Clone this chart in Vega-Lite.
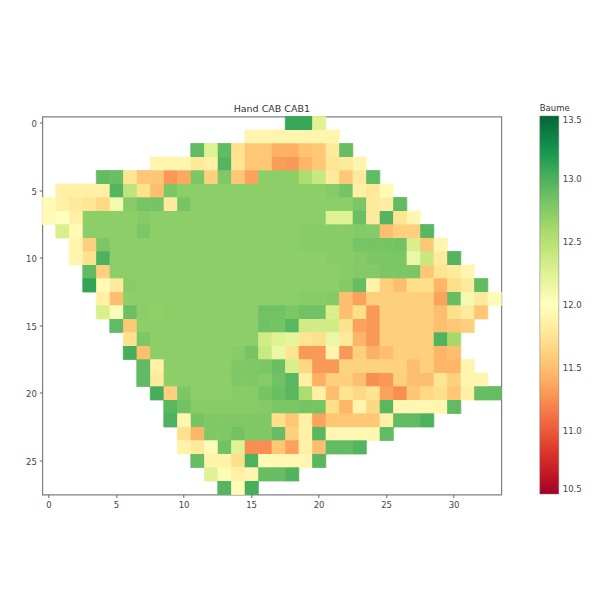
{"$schema":"https://vega.github.io/schema/vega-lite/v6.json","autosize":{"type":"none"},"width":459,"height":378,"padding":{"left":42.3,"top":116.5,"right":98,"bottom":105},"background":"white",
"title":{"text":"Hand CAB CAB1","fontSize":9.5,"font":"DejaVu Sans","fontWeight":"normal","color":"#333","offset":-10,"anchor":"middle"},
"config":{"view":{"stroke":"#808080","strokeWidth":1.2}},
"data":{"values":[
{"c":18,"r":0,"v":13.08},{"c":19,"r":0,"v":13.08},{"c":20,"r":0,"v":12.25},
{"c":15,"r":1,"v":11.9},{"c":16,"r":1,"v":11.9},{"c":17,"r":1,"v":11.9},{"c":18,"r":1,"v":11.9},{"c":19,"r":1,"v":11.9},{"c":20,"r":1,"v":11.9},{"c":21,"r":1,"v":11.9},
{"c":11,"r":2,"v":12.92},{"c":12,"r":2,"v":12.25},{"c":13,"r":2,"v":12.92},{"c":14,"r":2,"v":11.72},{"c":15,"r":2,"v":11.55},{"c":16,"r":2,"v":11.55},{"c":17,"r":2,"v":11.42},{"c":18,"r":2,"v":11.42},{"c":19,"r":2,"v":11.52},{"c":20,"r":2,"v":11.55},{"c":21,"r":2,"v":11.8},{"c":22,"r":2,"v":12.9},
{"c":8,"r":3,"v":11.9},{"c":9,"r":3,"v":11.9},{"c":10,"r":3,"v":11.9},{"c":11,"r":3,"v":11.78},{"c":12,"r":3,"v":11.85},{"c":13,"r":3,"v":12.97},{"c":14,"r":3,"v":11.75},{"c":15,"r":3,"v":11.55},{"c":16,"r":3,"v":11.55},{"c":17,"r":3,"v":11.32},{"c":18,"r":3,"v":11.3},{"c":19,"r":3,"v":11.45},{"c":20,"r":3,"v":11.55},{"c":21,"r":3,"v":11.75},{"c":22,"r":3,"v":11.8},{"c":23,"r":3,"v":11.9},
{"c":4,"r":4,"v":12.92},{"c":5,"r":4,"v":12.88},{"c":6,"r":4,"v":11.75},{"c":7,"r":4,"v":11.55},{"c":8,"r":4,"v":11.55},{"c":9,"r":4,"v":11.3},{"c":10,"r":4,"v":11.38},{"c":11,"r":4,"v":12.8},{"c":12,"r":4,"v":11.6},{"c":13,"r":4,"v":12.78},{"c":14,"r":4,"v":11.55},{"c":15,"r":4,"v":11.35},{"c":16,"r":4,"v":12.72},{"c":17,"r":4,"v":12.72},{"c":18,"r":4,"v":12.72},{"c":19,"r":4,"v":12.55},{"c":20,"r":4,"v":12.4},{"c":21,"r":4,"v":11.8},{"c":22,"r":4,"v":11.55},{"c":23,"r":4,"v":11.8},{"c":24,"r":4,"v":12.92},
{"c":1,"r":5,"v":11.85},{"c":2,"r":5,"v":11.85},{"c":3,"r":5,"v":11.85},{"c":4,"r":5,"v":11.85},{"c":5,"r":5,"v":12.97},{"c":6,"r":5,"v":12.45},{"c":7,"r":5,"v":11.72},{"c":8,"r":5,"v":11.5},{"c":9,"r":5,"v":12.8},{"c":10,"r":5,"v":12.72},{"c":11,"r":5,"v":12.72},{"c":12,"r":5,"v":12.72},{"c":13,"r":5,"v":12.72},{"c":14,"r":5,"v":12.72},{"c":15,"r":5,"v":12.72},{"c":16,"r":5,"v":12.72},{"c":17,"r":5,"v":12.72},{"c":18,"r":5,"v":12.72},{"c":19,"r":5,"v":12.72},{"c":20,"r":5,"v":12.72},{"c":21,"r":5,"v":12.75},{"c":22,"r":5,"v":12.82},{"c":23,"r":5,"v":11.85},{"c":24,"r":5,"v":11.78},{"c":25,"r":5,"v":11.95},
{"c":0,"r":6,"v":11.95},{"c":1,"r":6,"v":11.85},{"c":2,"r":6,"v":11.8},{"c":3,"r":6,"v":11.75},{"c":4,"r":6,"v":11.65},{"c":5,"r":6,"v":12.1},{"c":6,"r":6,"v":12.75},{"c":7,"r":6,"v":12.82},{"c":8,"r":6,"v":12.82},{"c":9,"r":6,"v":11.8},{"c":10,"r":6,"v":12.82},{"c":11,"r":6,"v":12.72},{"c":12,"r":6,"v":12.72},{"c":13,"r":6,"v":12.72},{"c":14,"r":6,"v":12.72},{"c":15,"r":6,"v":12.72},{"c":16,"r":6,"v":12.72},{"c":17,"r":6,"v":12.72},{"c":18,"r":6,"v":12.72},{"c":19,"r":6,"v":12.72},{"c":20,"r":6,"v":12.72},{"c":21,"r":6,"v":12.72},{"c":22,"r":6,"v":12.72},{"c":23,"r":6,"v":12.8},{"c":24,"r":6,"v":11.8},{"c":25,"r":6,"v":11.82},{"c":26,"r":6,"v":12.92},
{"c":0,"r":7,"v":11.95},{"c":1,"r":7,"v":12.0},{"c":2,"r":7,"v":11.85},{"c":3,"r":7,"v":12.72},{"c":4,"r":7,"v":12.72},{"c":5,"r":7,"v":12.72},{"c":6,"r":7,"v":12.72},{"c":7,"r":7,"v":12.75},{"c":8,"r":7,"v":12.72},{"c":9,"r":7,"v":12.72},{"c":10,"r":7,"v":12.72},{"c":11,"r":7,"v":12.72},{"c":12,"r":7,"v":12.72},{"c":13,"r":7,"v":12.72},{"c":14,"r":7,"v":12.72},{"c":15,"r":7,"v":12.72},{"c":16,"r":7,"v":12.72},{"c":17,"r":7,"v":12.72},{"c":18,"r":7,"v":12.72},{"c":19,"r":7,"v":12.72},{"c":20,"r":7,"v":12.72},{"c":21,"r":7,"v":12.25},{"c":22,"r":7,"v":12.25},{"c":23,"r":7,"v":12.88},{"c":24,"r":7,"v":11.8},{"c":25,"r":7,"v":12.97},{"c":26,"r":7,"v":11.75},{"c":27,"r":7,"v":11.92},
{"c":1,"r":8,"v":12.3},{"c":2,"r":8,"v":11.95},{"c":3,"r":8,"v":12.72},{"c":4,"r":8,"v":12.72},{"c":5,"r":8,"v":12.72},{"c":6,"r":8,"v":12.72},{"c":7,"r":8,"v":12.8},{"c":8,"r":8,"v":12.72},{"c":9,"r":8,"v":12.72},{"c":10,"r":8,"v":12.72},{"c":11,"r":8,"v":12.72},{"c":12,"r":8,"v":12.72},{"c":13,"r":8,"v":12.72},{"c":14,"r":8,"v":12.72},{"c":15,"r":8,"v":12.72},{"c":16,"r":8,"v":12.72},{"c":17,"r":8,"v":12.72},{"c":18,"r":8,"v":12.72},{"c":19,"r":8,"v":12.74},{"c":20,"r":8,"v":12.74},{"c":21,"r":8,"v":12.74},{"c":22,"r":8,"v":12.74},{"c":23,"r":8,"v":12.76},{"c":24,"r":8,"v":12.76},{"c":25,"r":8,"v":11.5},{"c":26,"r":8,"v":11.6},{"c":27,"r":8,"v":11.6},{"c":28,"r":8,"v":12.95},
{"c":2,"r":9,"v":11.9},{"c":3,"r":9,"v":11.6},{"c":4,"r":9,"v":12.8},{"c":5,"r":9,"v":12.72},{"c":6,"r":9,"v":12.72},{"c":7,"r":9,"v":12.72},{"c":8,"r":9,"v":12.72},{"c":9,"r":9,"v":12.72},{"c":10,"r":9,"v":12.72},{"c":11,"r":9,"v":12.72},{"c":12,"r":9,"v":12.72},{"c":13,"r":9,"v":12.72},{"c":14,"r":9,"v":12.72},{"c":15,"r":9,"v":12.72},{"c":16,"r":9,"v":12.72},{"c":17,"r":9,"v":12.72},{"c":18,"r":9,"v":12.72},{"c":19,"r":9,"v":12.74},{"c":20,"r":9,"v":12.74},{"c":21,"r":9,"v":12.74},{"c":22,"r":9,"v":12.74},{"c":23,"r":9,"v":12.82},{"c":24,"r":9,"v":12.82},{"c":25,"r":9,"v":12.82},{"c":26,"r":9,"v":12.84},{"c":27,"r":9,"v":12.3},{"c":28,"r":9,"v":11.55},{"c":29,"r":9,"v":11.9},
{"c":2,"r":10,"v":11.9},{"c":3,"r":10,"v":11.72},{"c":4,"r":10,"v":13.0},{"c":5,"r":10,"v":12.72},{"c":6,"r":10,"v":12.72},{"c":7,"r":10,"v":12.72},{"c":8,"r":10,"v":12.72},{"c":9,"r":10,"v":12.72},{"c":10,"r":10,"v":12.72},{"c":11,"r":10,"v":12.72},{"c":12,"r":10,"v":12.72},{"c":13,"r":10,"v":12.72},{"c":14,"r":10,"v":12.72},{"c":15,"r":10,"v":12.72},{"c":16,"r":10,"v":12.72},{"c":17,"r":10,"v":12.72},{"c":18,"r":10,"v":12.72},{"c":19,"r":10,"v":12.72},{"c":20,"r":10,"v":12.72},{"c":21,"r":10,"v":12.74},{"c":22,"r":10,"v":12.74},{"c":23,"r":10,"v":12.76},{"c":24,"r":10,"v":12.8},{"c":25,"r":10,"v":12.8},{"c":26,"r":10,"v":12.8},{"c":27,"r":10,"v":12.15},{"c":28,"r":10,"v":12.4},{"c":29,"r":10,"v":11.8},{"c":30,"r":10,"v":12.97},
{"c":3,"r":11,"v":12.92},{"c":4,"r":11,"v":11.6},{"c":5,"r":11,"v":12.72},{"c":6,"r":11,"v":12.72},{"c":7,"r":11,"v":12.72},{"c":8,"r":11,"v":12.72},{"c":9,"r":11,"v":12.72},{"c":10,"r":11,"v":12.72},{"c":11,"r":11,"v":12.72},{"c":12,"r":11,"v":12.72},{"c":13,"r":11,"v":12.72},{"c":14,"r":11,"v":12.72},{"c":15,"r":11,"v":12.72},{"c":16,"r":11,"v":12.72},{"c":17,"r":11,"v":12.72},{"c":18,"r":11,"v":12.72},{"c":19,"r":11,"v":12.72},{"c":20,"r":11,"v":12.72},{"c":21,"r":11,"v":12.72},{"c":22,"r":11,"v":12.74},{"c":23,"r":11,"v":12.76},{"c":24,"r":11,"v":12.76},{"c":25,"r":11,"v":12.8},{"c":26,"r":11,"v":12.8},{"c":27,"r":11,"v":12.8},{"c":28,"r":11,"v":11.55},{"c":29,"r":11,"v":11.75},{"c":30,"r":11,"v":11.8},{"c":31,"r":11,"v":11.9},
{"c":3,"r":12,"v":13.1},{"c":4,"r":12,"v":11.95},{"c":5,"r":12,"v":11.8},{"c":6,"r":12,"v":12.74},{"c":7,"r":12,"v":12.72},{"c":8,"r":12,"v":12.72},{"c":9,"r":12,"v":12.72},{"c":10,"r":12,"v":12.72},{"c":11,"r":12,"v":12.72},{"c":12,"r":12,"v":12.72},{"c":13,"r":12,"v":12.72},{"c":14,"r":12,"v":12.72},{"c":15,"r":12,"v":12.72},{"c":16,"r":12,"v":12.72},{"c":17,"r":12,"v":12.72},{"c":18,"r":12,"v":12.72},{"c":19,"r":12,"v":12.72},{"c":20,"r":12,"v":12.72},{"c":21,"r":12,"v":12.72},{"c":22,"r":12,"v":12.76},{"c":23,"r":12,"v":12.9},{"c":24,"r":12,"v":11.88},{"c":25,"r":12,"v":11.6},{"c":26,"r":12,"v":11.5},{"c":27,"r":12,"v":11.7},{"c":28,"r":12,"v":11.7},{"c":29,"r":12,"v":11.45},{"c":30,"r":12,"v":11.7},{"c":31,"r":12,"v":11.8},{"c":32,"r":12,"v":12.92},
{"c":4,"r":13,"v":11.85},{"c":5,"r":13,"v":11.5},{"c":6,"r":13,"v":12.72},{"c":7,"r":13,"v":12.72},{"c":8,"r":13,"v":12.72},{"c":9,"r":13,"v":12.72},{"c":10,"r":13,"v":12.72},{"c":11,"r":13,"v":12.72},{"c":12,"r":13,"v":12.72},{"c":13,"r":13,"v":12.72},{"c":14,"r":13,"v":12.72},{"c":15,"r":13,"v":12.72},{"c":16,"r":13,"v":12.72},{"c":17,"r":13,"v":12.72},{"c":18,"r":13,"v":12.72},{"c":19,"r":13,"v":12.74},{"c":20,"r":13,"v":12.74},{"c":21,"r":13,"v":12.76},{"c":22,"r":13,"v":11.5},{"c":23,"r":13,"v":11.35},{"c":24,"r":13,"v":11.6},{"c":25,"r":13,"v":11.6},{"c":26,"r":13,"v":11.6},{"c":27,"r":13,"v":11.6},{"c":28,"r":13,"v":11.6},{"c":29,"r":13,"v":11.35},{"c":30,"r":13,"v":12.9},{"c":31,"r":13,"v":12.1},{"c":32,"r":13,"v":11.8},{"c":33,"r":13,"v":11.95},
{"c":4,"r":14,"v":12.3},{"c":5,"r":14,"v":12.05},{"c":6,"r":14,"v":12.88},{"c":7,"r":14,"v":12.72},{"c":8,"r":14,"v":12.7},{"c":9,"r":14,"v":12.72},{"c":10,"r":14,"v":12.72},{"c":11,"r":14,"v":12.72},{"c":12,"r":14,"v":12.72},{"c":13,"r":14,"v":12.72},{"c":14,"r":14,"v":12.72},{"c":15,"r":14,"v":12.72},{"c":16,"r":14,"v":12.85},{"c":17,"r":14,"v":12.85},{"c":18,"r":14,"v":12.8},{"c":19,"r":14,"v":12.85},{"c":20,"r":14,"v":12.85},{"c":21,"r":14,"v":12.3},{"c":22,"r":14,"v":11.5},{"c":23,"r":14,"v":11.7},{"c":24,"r":14,"v":11.3},{"c":25,"r":14,"v":11.6},{"c":26,"r":14,"v":11.6},{"c":27,"r":14,"v":11.6},{"c":28,"r":14,"v":11.6},{"c":29,"r":14,"v":11.5},{"c":30,"r":14,"v":11.7},{"c":31,"r":14,"v":11.8},{"c":32,"r":14,"v":11.55},
{"c":5,"r":15,"v":12.92},{"c":6,"r":15,"v":11.55},{"c":7,"r":15,"v":12.72},{"c":8,"r":15,"v":12.72},{"c":9,"r":15,"v":12.72},{"c":10,"r":15,"v":12.72},{"c":11,"r":15,"v":12.72},{"c":12,"r":15,"v":12.72},{"c":13,"r":15,"v":12.72},{"c":14,"r":15,"v":12.72},{"c":15,"r":15,"v":12.72},{"c":16,"r":15,"v":12.85},{"c":17,"r":15,"v":12.82},{"c":18,"r":15,"v":12.95},{"c":19,"r":15,"v":12.35},{"c":20,"r":15,"v":12.35},{"c":21,"r":15,"v":12.35},{"c":22,"r":15,"v":11.72},{"c":23,"r":15,"v":11.35},{"c":24,"r":15,"v":11.3},{"c":25,"r":15,"v":11.6},{"c":26,"r":15,"v":11.6},{"c":27,"r":15,"v":11.6},{"c":28,"r":15,"v":11.6},{"c":29,"r":15,"v":11.5},{"c":30,"r":15,"v":11.55},{"c":31,"r":15,"v":11.6},
{"c":6,"r":16,"v":11.72},{"c":7,"r":16,"v":12.8},{"c":8,"r":16,"v":12.72},{"c":9,"r":16,"v":12.72},{"c":10,"r":16,"v":12.72},{"c":11,"r":16,"v":12.72},{"c":12,"r":16,"v":12.72},{"c":13,"r":16,"v":12.72},{"c":14,"r":16,"v":12.72},{"c":15,"r":16,"v":12.72},{"c":16,"r":16,"v":12.35},{"c":17,"r":16,"v":12.25},{"c":18,"r":16,"v":12.2},{"c":19,"r":16,"v":11.75},{"c":20,"r":16,"v":11.7},{"c":21,"r":16,"v":12.15},{"c":22,"r":16,"v":11.8},{"c":23,"r":16,"v":11.45},{"c":24,"r":16,"v":11.3},{"c":25,"r":16,"v":11.6},{"c":26,"r":16,"v":11.6},{"c":27,"r":16,"v":11.6},{"c":28,"r":16,"v":11.6},{"c":29,"r":16,"v":12.98},{"c":30,"r":16,"v":12.6},
{"c":6,"r":17,"v":13.02},{"c":7,"r":17,"v":11.5},{"c":8,"r":17,"v":12.72},{"c":9,"r":17,"v":12.72},{"c":10,"r":17,"v":12.72},{"c":11,"r":17,"v":12.72},{"c":12,"r":17,"v":12.72},{"c":13,"r":17,"v":12.72},{"c":14,"r":17,"v":12.74},{"c":15,"r":17,"v":12.82},{"c":16,"r":17,"v":12.4},{"c":17,"r":17,"v":12.15},{"c":18,"r":17,"v":11.75},{"c":19,"r":17,"v":11.3},{"c":20,"r":17,"v":11.3},{"c":21,"r":17,"v":11.9},{"c":22,"r":17,"v":11.3},{"c":23,"r":17,"v":11.6},{"c":24,"r":17,"v":11.42},{"c":25,"r":17,"v":11.5},{"c":26,"r":17,"v":11.6},{"c":27,"r":17,"v":11.6},{"c":28,"r":17,"v":11.6},{"c":29,"r":17,"v":11.45},{"c":30,"r":17,"v":11.5},
{"c":7,"r":18,"v":12.92},{"c":8,"r":18,"v":11.85},{"c":9,"r":18,"v":12.72},{"c":10,"r":18,"v":12.72},{"c":11,"r":18,"v":12.72},{"c":12,"r":18,"v":12.72},{"c":13,"r":18,"v":12.72},{"c":14,"r":18,"v":12.78},{"c":15,"r":18,"v":12.78},{"c":16,"r":18,"v":12.8},{"c":17,"r":18,"v":12.88},{"c":18,"r":18,"v":12.3},{"c":19,"r":18,"v":11.65},{"c":20,"r":18,"v":11.3},{"c":21,"r":18,"v":11.3},{"c":22,"r":18,"v":11.62},{"c":23,"r":18,"v":11.62},{"c":24,"r":18,"v":11.62},{"c":25,"r":18,"v":11.62},{"c":26,"r":18,"v":11.62},{"c":27,"r":18,"v":11.5},{"c":28,"r":18,"v":11.6},{"c":29,"r":18,"v":11.45},{"c":30,"r":18,"v":11.45},{"c":31,"r":18,"v":11.9},
{"c":7,"r":19,"v":12.92},{"c":8,"r":19,"v":11.8},{"c":9,"r":19,"v":12.72},{"c":10,"r":19,"v":12.72},{"c":11,"r":19,"v":12.72},{"c":12,"r":19,"v":12.72},{"c":13,"r":19,"v":12.72},{"c":14,"r":19,"v":12.78},{"c":15,"r":19,"v":12.78},{"c":16,"r":19,"v":12.75},{"c":17,"r":19,"v":12.85},{"c":18,"r":19,"v":12.95},{"c":19,"r":19,"v":11.85},{"c":20,"r":19,"v":11.4},{"c":21,"r":19,"v":11.6},{"c":22,"r":19,"v":11.6},{"c":23,"r":19,"v":11.5},{"c":24,"r":19,"v":11.25},{"c":25,"r":19,"v":11.3},{"c":26,"r":19,"v":11.6},{"c":27,"r":19,"v":11.5},{"c":28,"r":19,"v":11.5},{"c":29,"r":19,"v":11.75},{"c":30,"r":19,"v":11.6},{"c":31,"r":19,"v":11.9},{"c":32,"r":19,"v":11.9},
{"c":8,"r":20,"v":13.02},{"c":9,"r":20,"v":11.6},{"c":10,"r":20,"v":12.8},{"c":11,"r":20,"v":12.72},{"c":12,"r":20,"v":12.72},{"c":13,"r":20,"v":12.72},{"c":14,"r":20,"v":12.74},{"c":15,"r":20,"v":12.74},{"c":16,"r":20,"v":12.82},{"c":17,"r":20,"v":12.88},{"c":18,"r":20,"v":12.95},{"c":19,"r":20,"v":12.55},{"c":20,"r":20,"v":11.85},{"c":21,"r":20,"v":11.5},{"c":22,"r":20,"v":11.75},{"c":23,"r":20,"v":11.65},{"c":24,"r":20,"v":11.75},{"c":25,"r":20,"v":11.35},{"c":26,"r":20,"v":11.25},{"c":27,"r":20,"v":11.55},{"c":28,"r":20,"v":11.65},{"c":29,"r":20,"v":11.7},{"c":30,"r":20,"v":11.55},{"c":31,"r":20,"v":11.85},{"c":32,"r":20,"v":12.9},{"c":33,"r":20,"v":12.9},
{"c":9,"r":21,"v":12.95},{"c":10,"r":21,"v":12.85},{"c":11,"r":21,"v":12.74},{"c":12,"r":21,"v":12.74},{"c":13,"r":21,"v":12.74},{"c":14,"r":21,"v":12.74},{"c":15,"r":21,"v":12.74},{"c":16,"r":21,"v":12.76},{"c":17,"r":21,"v":12.8},{"c":18,"r":21,"v":12.8},{"c":19,"r":21,"v":12.82},{"c":20,"r":21,"v":12.82},{"c":21,"r":21,"v":11.7},{"c":22,"r":21,"v":11.45},{"c":23,"r":21,"v":11.9},{"c":24,"r":21,"v":11.65},{"c":25,"r":21,"v":12.95},{"c":26,"r":21,"v":11.92},{"c":27,"r":21,"v":11.92},{"c":28,"r":21,"v":11.92},{"c":29,"r":21,"v":11.92},{"c":30,"r":21,"v":12.92},
{"c":9,"r":22,"v":13.0},{"c":10,"r":22,"v":11.92},{"c":11,"r":22,"v":12.82},{"c":12,"r":22,"v":12.78},{"c":13,"r":22,"v":12.78},{"c":14,"r":22,"v":12.78},{"c":15,"r":22,"v":12.78},{"c":16,"r":22,"v":12.78},{"c":17,"r":22,"v":11.7},{"c":18,"r":22,"v":11.55},{"c":19,"r":22,"v":11.85},{"c":20,"r":22,"v":11.35},{"c":21,"r":22,"v":11.55},{"c":22,"r":22,"v":11.55},{"c":23,"r":22,"v":11.55},{"c":24,"r":22,"v":11.55},{"c":25,"r":22,"v":11.85},{"c":26,"r":22,"v":12.92},{"c":27,"r":22,"v":12.92},{"c":28,"r":22,"v":13.0},
{"c":10,"r":23,"v":11.72},{"c":11,"r":23,"v":11.45},{"c":12,"r":23,"v":12.78},{"c":13,"r":23,"v":12.78},{"c":14,"r":23,"v":12.85},{"c":15,"r":23,"v":12.78},{"c":16,"r":23,"v":12.78},{"c":17,"r":23,"v":12.9},{"c":18,"r":23,"v":11.6},{"c":19,"r":23,"v":11.85},{"c":20,"r":23,"v":12.95},{"c":21,"r":23,"v":11.92},{"c":22,"r":23,"v":11.92},{"c":23,"r":23,"v":11.92},{"c":24,"r":23,"v":11.92},{"c":25,"r":23,"v":12.92},
{"c":10,"r":24,"v":11.88},{"c":11,"r":24,"v":11.8},{"c":12,"r":24,"v":11.95},{"c":13,"r":24,"v":12.85},{"c":14,"r":24,"v":12.25},{"c":15,"r":24,"v":11.25},{"c":16,"r":24,"v":11.25},{"c":17,"r":24,"v":11.55},{"c":18,"r":24,"v":11.35},{"c":19,"r":24,"v":11.85},{"c":20,"r":24,"v":11.5},{"c":21,"r":24,"v":12.92},{"c":22,"r":24,"v":12.92},{"c":23,"r":24,"v":12.97},
{"c":11,"r":25,"v":12.9},{"c":12,"r":25,"v":11.88},{"c":13,"r":25,"v":11.88},{"c":14,"r":25,"v":11.7},{"c":15,"r":25,"v":13.0},{"c":16,"r":25,"v":11.95},{"c":17,"r":25,"v":11.92},{"c":18,"r":25,"v":11.92},{"c":19,"r":25,"v":11.92},{"c":20,"r":25,"v":12.95},
{"c":12,"r":26,"v":12.25},{"c":13,"r":26,"v":11.95},{"c":14,"r":26,"v":11.85},{"c":15,"r":26,"v":11.9},{"c":16,"r":26,"v":12.9},{"c":17,"r":26,"v":12.9},{"c":18,"r":26,"v":12.98},
{"c":13,"r":27,"v":12.97},{"c":14,"r":27,"v":11.95},{"c":15,"r":27,"v":13.02}
]},
"encoding":{
"x":{"field":"c","type":"ordinal","title":null,"scale":{"domain":[0,1,2,3,4,5,6,7,8,9,10,11,12,13,14,15,16,17,18,19,20,21,22,23,24,25,26,27,28,29,30,31,32,33],"paddingInner":0,"paddingOuter":0},"axis":{"values":[0,5,10,15,20,25,30],"labelAngle":0,"domain":false,"grid":false,"tickSize":3,"tickColor":"#666","labelColor":"#444","labelFontSize":8.5,"labelFont":"DejaVu Sans","labelPadding":3}},
"y":{"field":"r","type":"ordinal","title":null,"scale":{"domain":[0,1,2,3,4,5,6,7,8,9,10,11,12,13,14,15,16,17,18,19,20,21,22,23,24,25,26,27],"paddingInner":0,"paddingOuter":0},"axis":{"values":[0,5,10,15,20,25],"domain":false,"grid":false,"tickSize":3,"tickColor":"#666","labelColor":"#444","labelFontSize":8.5,"labelFont":"DejaVu Sans","labelPadding":3,"labelOffset":1}}
},
"layer":[
{"mark":{"type":"rect","filled":false,"strokeWidth":0.8},
"encoding":{"stroke":{"field":"v","type":"quantitative","legend":null,"scale":{"domain":[10.4999,10.8,11.1,11.4,11.7,12.0,12.3,12.6,12.9,13.2,13.5],"range":["#a50026","#d73027","#f46d43","#fdae61","#fee08b","#ffffbf","#d9ef8b","#a6d96a","#66bd63","#1a9850","#006837"],"interpolate":"rgb"}}}},
{"mark":{"type":"rect","strokeWidth":0},
"encoding":{"color":{"field":"v","type":"quantitative","scale":{"domain":[10.5,10.8,11.1,11.4,11.7,12.0,12.3,12.6,12.9,13.2,13.5],"range":["#a50026","#d73027","#f46d43","#fdae61","#fee08b","#ffffbf","#d9ef8b","#a6d96a","#66bd63","#1a9850","#006837"],"interpolate":"rgb"},
"legend":{"type":"gradient","title":"Baume","orient":"none","legendX":497.5,"legendY":-13,"direction":"vertical","gradientLength":378,"gradientThickness":19,"values":[10.5,11,11.5,12,12.5,13,13.5],"format":".1f","titleFontSize":8.5,"titleFont":"DejaVu Sans","titleFontWeight":"normal","titleColor":"#333","titlePadding":4,"labelFontSize":8.5,"labelFont":"DejaVu Sans","labelColor":"#444","labelOverlap":false,"labelOffset":4,"labelBaseline":"middle","gradientStrokeColor":"#777","gradientStrokeWidth":0.5,"titleAnchor":"start"}}}}
]
}
